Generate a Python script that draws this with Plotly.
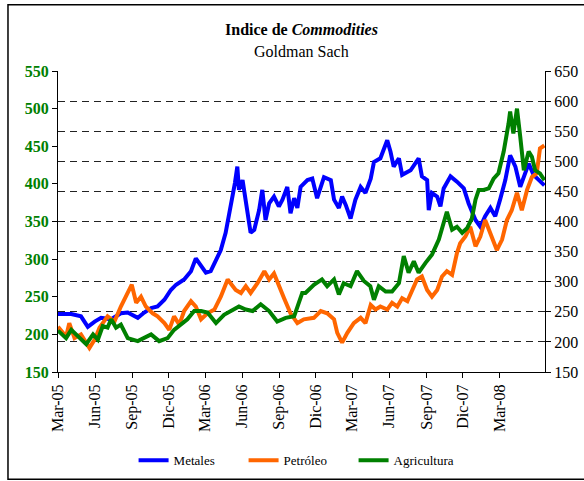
import plotly.graph_objects as go

# ---- data (left-axis units) ----
met_dates = ["2005-03-01","2005-04-03","2005-04-27","2005-05-14","2005-05-31","2005-06-16","2005-07-11","2005-08-04","2005-08-21","2005-09-15",
             "2005-10-01","2005-10-18","2005-11-03","2005-11-20","2005-12-06","2005-12-19","2006-01-08","2006-01-25","2006-02-06","2006-02-19",
             "2006-03-03","2006-03-15","2006-03-28","2006-04-09","2006-04-21","2006-04-30","2006-05-08","2006-05-14","2006-05-20","2006-05-24",
             "2006-06-02","2006-06-10","2006-06-22","2006-07-01","2006-07-13","2006-07-21","2006-07-29","2006-08-07","2006-08-19","2006-08-31",
             "2006-09-09","2006-09-21","2006-09-29","2006-10-08","2006-10-16","2006-10-24","2006-11-10","2006-11-22","2006-12-04","2006-12-21",
             "2007-01-07","2007-01-15","2007-01-27","2007-02-04","2007-02-13","2007-02-25","2007-03-09","2007-03-22","2007-04-03","2007-04-16",
             "2007-04-24","2007-05-10","2007-05-27","2007-06-04","2007-06-12","2007-06-25","2007-07-03","2007-07-24","2007-08-13","2007-08-21",
             "2007-09-03","2007-09-07","2007-09-15","2007-09-28","2007-10-06","2007-10-14","2007-10-31","2007-11-16","2007-12-03","2007-12-15",
             "2007-12-23","2008-01-01","2008-01-13","2008-01-25","2008-02-07","2008-02-19","2008-03-02","2008-03-15","2008-03-27","2008-04-09",
             "2008-04-21","2008-04-30","2008-05-12","2008-05-24","2008-06-05","2008-06-20"]
met_vals = [227,227,224,210,217,222,220,228,229,222,
            229,235,237,246,259,266,273,284,301,290,
            282,284,299,312,335,361,379,401,423,392,
            405,374,335,339,365,392,352,374,383,370,
            379,396,361,381,368,396,405,407,381,409,
            405,379,368,383,372,354,379,396,388,407,
            429,434,458,443,423,434,412,418,434,410,
            405,365,388,383,370,394,410,403,394,374,
            365,352,343,357,368,357,379,405,438,423,
            396,410,427,412,405,398]

pet_dates = ["2005-03-01","2005-03-21","2005-03-29","2005-04-11","2005-04-27","2005-05-18","2005-05-31","2005-06-12","2005-07-02","2005-07-19",
             "2005-08-04","2005-08-17","2005-08-31","2005-09-11","2005-09-23","2005-10-05","2005-10-22","2005-11-03","2005-11-20","2005-12-02",
             "2005-12-14","2005-12-27","2006-01-08","2006-01-25","2006-02-06","2006-02-19","2006-03-07","2006-03-24","2006-04-09","2006-04-26",
             "2006-05-04","2006-05-16","2006-05-29","2006-06-10","2006-06-22","2006-07-09","2006-07-26","2006-08-07","2006-08-19","2006-08-31",
             "2006-09-13","2006-09-29","2006-10-16","2006-11-01","2006-11-26","2006-12-13","2006-12-29","2007-01-15","2007-01-23","2007-02-04",
             "2007-02-17","2007-03-05","2007-03-22","2007-04-03","2007-04-16","2007-04-28","2007-05-10","2007-05-27","2007-06-08","2007-06-21",
             "2007-07-03","2007-07-16","2007-07-28","2007-08-09","2007-08-21","2007-09-03","2007-09-15","2007-09-28","2007-10-10","2007-10-22",
             "2007-11-04","2007-11-16","2007-11-24","2007-12-07","2007-12-19","2008-01-01","2008-01-13","2008-01-25","2008-02-07","2008-02-23",
             "2008-03-07","2008-03-19","2008-03-31","2008-04-13","2008-04-25","2008-05-08","2008-05-20","2008-06-01","2008-06-09","2008-06-20"]
pet_vals = [210,197,215,195,200,182,193,209,224,217,
            237,250,266,242,250,237,228,224,215,206,
            224,213,231,244,237,220,228,233,250,273,
            268,259,255,264,255,268,284,273,281,264,
            248,228,215,220,222,231,228,220,202,189,
            202,215,222,215,239,233,237,233,242,237,
            248,244,259,273,277,259,250,259,277,284,
            279,308,321,330,343,317,330,352,334,312,
            326,352,365,388,365,392,409,414,447,451]

agr_dates = ["2005-03-01","2005-03-21","2005-04-03","2005-04-19","2005-05-10","2005-05-27","2005-06-08","2005-06-20","2005-07-02","2005-07-11",
             "2005-07-23","2005-08-04","2005-08-21","2005-09-15","2005-10-01","2005-10-18","2005-11-07","2005-11-28","2005-12-14","2005-12-31",
             "2006-01-16","2006-02-02","2006-02-19","2006-03-07","2006-03-28","2006-04-17","2006-05-04","2006-05-24","2006-06-10","2006-06-27",
             "2006-07-17","2006-08-07","2006-08-27","2006-09-17","2006-10-08","2006-10-20","2006-10-28","2006-11-05","2006-11-26","2006-12-16",
             "2006-12-29","2007-01-15","2007-01-27","2007-02-08","2007-02-25","2007-03-13","2007-03-30","2007-04-15","2007-04-24","2007-05-06",
             "2007-05-23","2007-06-08","2007-06-25","2007-07-07","2007-07-19","2007-08-01","2007-08-13","2007-08-30","2007-09-15","2007-10-02",
             "2007-10-14","2007-10-22","2007-11-04","2007-11-16","2007-11-29","2007-12-11","2007-12-23","2008-01-01","2008-01-09","2008-01-21",
             "2008-02-03","2008-02-15","2008-02-27","2008-03-11","2008-03-23","2008-03-27","2008-04-04","2008-04-13","2008-04-21","2008-04-30",
             "2008-05-12","2008-05-20","2008-05-28","2008-06-09","2008-06-20"]
agr_vals = [205,195,206,198,187,200,193,211,209,220,
            209,213,195,191,195,200,191,195,206,213,
            220,231,231,229,215,226,231,237,233,231,
            240,231,217,222,224,242,255,255,266,273,
            264,273,253,268,264,284,271,264,246,264,
            257,257,268,304,282,297,282,295,306,326,
            348,363,339,343,335,341,354,379,392,392,
            394,407,414,443,480,496,467,500,463,418,
            443,436,418,414,405]

tick_dates = ["2005-03-01","2005-06-01","2005-09-01","2005-12-01","2006-03-01","2006-06-01","2006-09-01",
              "2006-12-01","2007-03-01","2007-06-01","2007-09-01","2007-12-01","2008-03-01"]
tick_labels = ["Mar-05","Jun-05","Sep-05","Dic-05","Mar-06","Jun-06","Sep-06",
               "Dic-06","Mar-07","Jun-07","Sep-07","Dic-07","Mar-08"]

left_ticks = [150, 200, 250, 300, 350, 400, 450, 500, 550]
right_ticks = [150, 200, 250, 300, 350, 400, 450, 500, 550, 600, 650]

series_names = ["Metales", "Petróleo", "Agricultura"]
series_colors = ["#0000FF", "#FF6600", "#008000"]

FONT = "Liberation Serif"

fig = go.Figure()
for name, color, xs, ys in zip(series_names, series_colors,
                               [met_dates, pet_dates, agr_dates],
                               [met_vals, pet_vals, agr_vals]):
    fig.add_trace(go.Scatter(x=xs, y=ys, name=name, mode="lines",
                             line=dict(color=color, width=4)))

# invisible trace so the right-hand axis is materialised
fig.add_trace(go.Scatter(x=[tick_dates[0]], y=[None], yaxis="y2", showlegend=False,
                         hoverinfo="skip", mode="lines"))

fig.update_layout(
    template="none",
    width=584, height=481,
    margin=dict(l=58, r=39, t=71, b=109, autoexpand=False),
    paper_bgcolor="white", plot_bgcolor="white",
    font=dict(family=FONT, color="black", size=15),
    showlegend=True,
    legend=dict(orientation="h", x=0.494, xanchor="center", y=-0.293, yanchor="middle",
                font=dict(family=FONT, size=13, color="black"),
                entrywidth=65, entrywidthmode="pixels",
                bgcolor="rgba(0,0,0,0)", borderwidth=0, itemwidth=30),
    xaxis=dict(type="date", range=["2005-03-01", "2008-06-21 12:00"], automargin=False,
               tickmode="array", tickvals=tick_dates, ticktext=tick_labels, tickangle=-90,
               tickfont=dict(family=FONT, size=16, color="black"),
               ticks="outside", ticklen=5, tickcolor="black", tickwidth=1,
               showline=True, linecolor="black", linewidth=1,
               showgrid=False, zeroline=False),
    yaxis=dict(range=[150, 550], automargin=False, tickmode="array", tickvals=left_ticks,
               tickfont=dict(family=FONT, size=16, color="#008000", weight="bold"),
               ticks="outside", ticklen=5, tickcolor="black", tickwidth=1,
               showline=True, linecolor="black", linewidth=1,
               showgrid=False, zeroline=False),
    yaxis2=dict(range=[150, 650], automargin=False, tickmode="array", tickvals=right_ticks,
                overlaying="y", side="right",
                tickfont=dict(family=FONT, size=16, color="black"),
                ticks="outside", ticklen=5, tickcolor="black", tickwidth=1,
                showline=True, linecolor="black", linewidth=1,
                showgrid=True, gridcolor="#222222", gridwidth=1, griddash="7px,5px",
                zeroline=False),
    annotations=[
        dict(text="<b>Indice de <i>Commodities</i></b>", xref="paper", yref="paper",
             x=0.5, y=1.138, xanchor="center", yanchor="middle", showarrow=False,
             font=dict(family=FONT, size=16, color="black")),
        dict(text="Goldman Sach", xref="paper", yref="paper",
             x=0.5, y=1.0636, xanchor="center", yanchor="middle", showarrow=False,
             font=dict(family=FONT, size=16, color="black")),
    ],
    shapes=[dict(type="rect", xref="paper", yref="paper",
                 x0=-0.1027, x1=1.1, y0=-0.356, y1=1.2205,
                 line=dict(color="black", width=1.5), fillcolor="rgba(0,0,0,0)", layer="below")],
)

fig.write_html("out.html",
               config={"displayModeBar": False},
               post_script="document.body.style.margin='0';document.body.style.overflow='hidden';")
